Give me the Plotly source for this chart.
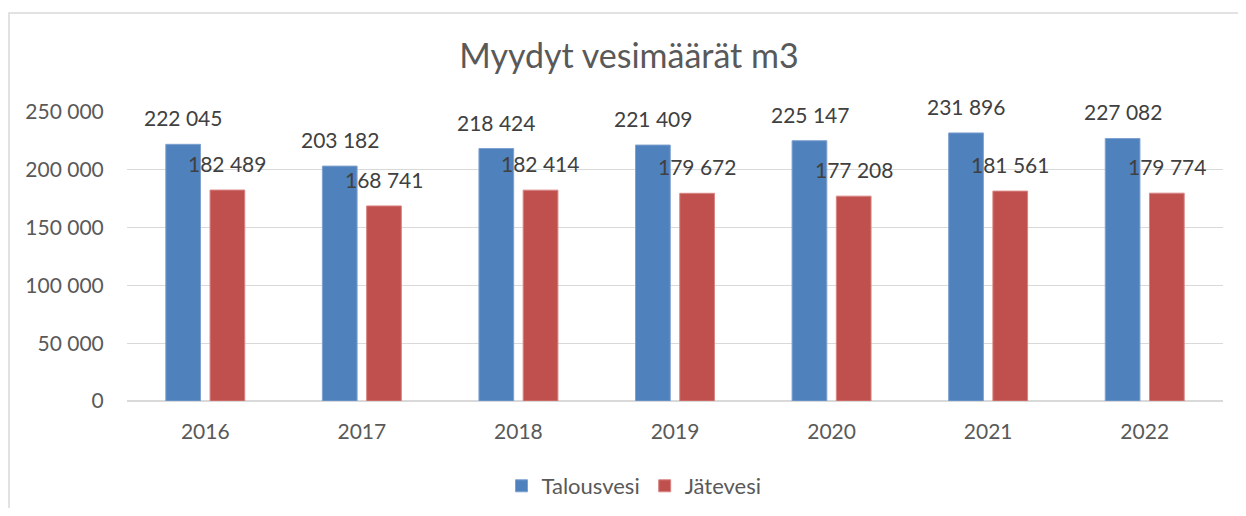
import plotly.graph_objects as go

years = ["2016", "2017", "2018", "2019", "2020", "2021", "2022"]
talousvesi = [222045, 203182, 218424, 221409, 225147, 231896, 227082]
jatevesi = [182489, 168741, 182414, 179672, 177208, 181561, 179774]
series_names = ["Talousvesi", "Jätevesi"]
y_ticks = [0, 50000, 100000, 150000, 200000, 250000]

TXT = "#595959"
FONT = "Lato"
BLUE = "#4F81BD"
RED = "#C0504D"

def fmt(v):
    return f"{v:,}".replace(",", " ")

# page offset of the plot div (browser default body margin)
OX, OY = 8, 8
W, H = 1230, 500

def X(px):
    return px - OX

def Y(py):
    return py - OY

L = X(127)
R = W - X(1223)
T = Y(112)
B = H - Y(401)
pw = W - L - R
ph = H - T - B

def px_to_paper_x(px):
    return (X(px) - L) / pw

def px_to_paper_y(py):
    return (H - B - Y(py)) / ph

fig = go.Figure()
fig.add_trace(go.Bar(x=years, y=talousvesi, name=series_names[0],
                     marker=dict(color=BLUE, line=dict(color="#7EA1CF", width=1))))
fig.add_trace(go.Bar(x=years, y=jatevesi, name=series_names[1],
                     marker=dict(color=RED, line=dict(color="#D88583", width=1))))

annotations = []
for vals, shift in ((talousvesi, -22), (jatevesi, 22)):
    for i, v in enumerate(vals):
        annotations.append(dict(x=i, y=v, xref="x", yref="y", text=fmt(v),
                                showarrow=False, xshift=shift, yshift=12,
                                yanchor="bottom", xanchor="center",
                                font=dict(family=FONT, size=21, color="#404040")))

fig.update_layout(
    width=W, height=H,
    margin=dict(l=L, r=R, t=T, b=B, autoexpand=False),
    paper_bgcolor="white", plot_bgcolor="white",
    barmode="group", bargap=0.435, bargroupgap=0.215,
    font=dict(family=FONT, size=21, color=TXT),
    title=dict(text="Myydyt vesimäärät m3", x=X(629) / W, xref="container", xanchor="center",
               y=1 - Y(56) / H, yref="container", yanchor="middle",
               font=dict(family=FONT, size=34, color=TXT)),
    legend=dict(orientation="h", x=X(634) / W, xref="container", xanchor="center",
                y=1 - Y(486) / H, yref="container", yanchor="middle",
                font=dict(family=FONT, size=22, color=TXT),
                traceorder="normal"),
    annotations=annotations,
    shapes=[dict(type="rect", xref="paper", yref="paper",
                 x0=px_to_paper_x(9), x1=px_to_paper_x(1260),
                 y0=px_to_paper_y(540), y1=px_to_paper_y(13),
                 line=dict(color="#D9D9D9", width=1.5), layer="below")],
)
fig.update_yaxes(range=[0, 250000], tickvals=y_ticks, ticktext=[fmt(v) for v in y_ticks],
                 showgrid=True, gridcolor="#D9D9D9", gridwidth=1.2,
                 zeroline=True, zerolinecolor="#D9D9D9", zerolinewidth=1.5,
                 showline=False, ticks="outside", ticklen=18, tickcolor="rgba(0,0,0,0)",
                 tickfont=dict(family=FONT, size=21, color=TXT))
fig.update_xaxes(type="category", categoryorder="array", categoryarray=years,
                 range=[-0.5, len(years) - 0.5],
                 showline=False, ticks="outside", ticklen=12, tickcolor="rgba(0,0,0,0)",
                 tickfont=dict(family=FONT, size=21, color=TXT))

fig.write_html("out.html")
